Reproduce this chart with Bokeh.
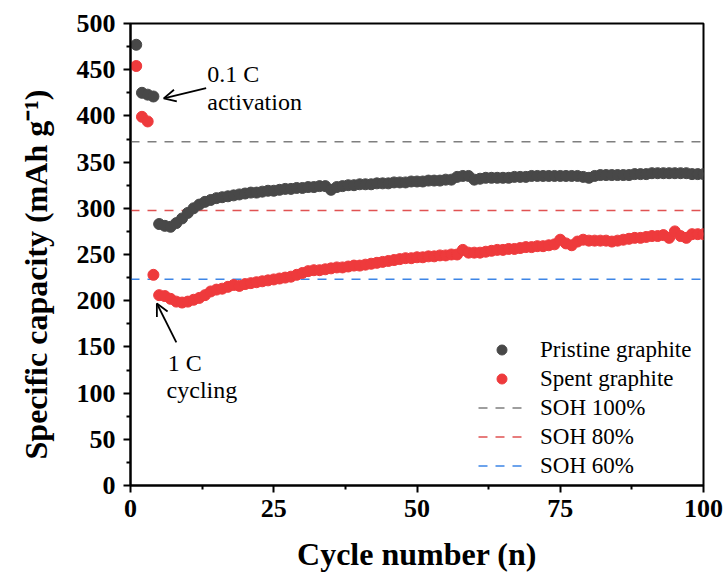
from bokeh.plotting import figure
from bokeh.models import (FixedTicker, Legend, LegendItem, Label, Arrow, OpenHead)
from bokeh.embed import file_html
from bokeh.resources import INLINE

# Cycle index and specific capacity (mAh/g) for the two electrodes
cycles = list(range(1, 101))

pristine = [477, 425, 423, 421, 283, 281, 280, 284, 289, 295,
            300, 304, 307, 309, 311, 312, 313, 314, 315, 316,
            317, 317, 318, 319, 319, 320, 321, 321, 322, 322,
            323, 323, 324, 324, 320, 323, 324, 325, 325, 326,
            326, 326, 327, 327, 327, 328, 328, 328, 329, 329,
            329, 330, 330, 330, 331, 331, 334, 335, 335, 331,
            332, 333, 333, 333, 333, 333, 334, 334, 334, 335,
            335, 335, 335, 335, 335, 335, 335, 335, 334, 333,
            335, 336, 336, 336, 336, 336, 336, 337, 337, 337,
            338, 338, 338, 338, 338, 338, 338, 337, 337, 337]

spent = [454, 399, 394, 228, 206, 205, 202, 199, 198, 199,
         201, 203, 206, 210, 212, 213, 215, 217, 216, 218,
         219, 220, 221, 222, 223, 224, 225, 226, 228, 230,
         232, 233, 233, 234, 235, 236, 236, 237, 238, 238,
         239, 240, 241, 242, 243, 244, 245, 246, 246, 247,
         247, 248, 248, 249, 249, 250, 250, 255, 252, 252,
         252, 253, 254, 255, 255, 256, 256, 257, 258, 258,
         259, 259, 260, 261, 266, 262, 260, 264, 266, 265,
         265, 265, 265, 264, 265, 266, 267, 268, 268, 269,
         270, 270, 271, 268, 275, 270, 268, 272, 272, 272]

# State-of-health reference capacities
soh_labels = ["SOH 100%", "SOH 80%", "SOH 60%"]
soh_values = [372, 297.6, 223.2]
soh_colors = ["#7f7f7f", "#e05252", "#3d85e6"]

x_ticks = [0, 25, 50, 75, 100]
x_minor = [12.5, 37.5, 62.5, 87.5]
y_ticks = list(range(0, 501, 50))
y_minor = list(range(25, 500, 50))

X_MIN, X_MAX = 0, 100
FONT = "Liberation Serif"

p = figure(width=728, height=580, x_range=(X_MIN, X_MAX), y_range=(0, 500),
           output_backend="svg", toolbar_location=None,
           min_border_left=130, min_border_right=25,
           min_border_top=23, min_border_bottom=95)

p.xgrid.visible = False
p.ygrid.visible = False
p.background_fill_color = "white"
p.border_fill_color = "white"
p.outline_line_color = "black"
p.outline_line_width = 2

p.xaxis.ticker = FixedTicker(ticks=x_ticks, minor_ticks=x_minor)
p.yaxis.ticker = FixedTicker(ticks=y_ticks, minor_ticks=y_minor)

for ax in (p.xaxis[0], p.yaxis[0]):
    ax.axis_line_width = 2
    ax.axis_line_color = "black"
    ax.major_tick_line_width = 2
    ax.minor_tick_line_width = 2
    ax.major_tick_in = 0
    ax.major_tick_out = 7
    ax.minor_tick_in = 0
    ax.minor_tick_out = 4
    ax.major_label_text_font = FONT
    ax.major_label_text_font_style = "bold"
    ax.major_label_text_font_size = "26px"
    ax.major_label_text_color = "black"
    ax.axis_label_text_font = FONT
    ax.axis_label_text_font_style = "bold"
    ax.axis_label_text_font_size = "32px"
    ax.axis_label_text_color = "black"

p.xaxis.axis_label = "Cycle number (n)"
# trailing no-break spaces nudge the rotated title a little below centre
p.yaxis.axis_label = "Specific capacity (mAh g\u207b\u00b9)" + "\u00a0" * 5
p.xaxis.major_label_standoff = 7
p.yaxis.major_label_standoff = 8
p.xaxis.axis_label_standoff = 16
p.yaxis.axis_label_standoff = 20

# Reference SOH levels as dashed horizontal lines
soh_renderers = []
for lab, val, col in zip(soh_labels, soh_values, soh_colors):
    r = p.line(x=[X_MIN, X_MAX], y=[val, val], line_color=col,
               line_width=1.6, line_dash="9 8")
    soh_renderers.append(r)

r_pristine = p.scatter(cycles, pristine, size=11, marker="circle",
                       fill_color="#484848", line_color="#484848")
r_spent = p.scatter(cycles, spent, size=11, marker="circle",
                    fill_color="#ee3a3c", line_color="#ee3a3c")

legend = Legend(items=[
    LegendItem(label="Pristine graphite", renderers=[r_pristine]),
    LegendItem(label="Spent graphite", renderers=[r_spent]),
] + [LegendItem(label=lab, renderers=[r]) for lab, r in zip(soh_labels, soh_renderers)],
    location=(348, 5), orientation="vertical")
legend.background_fill_alpha = 0
legend.border_line_alpha = 0
legend.padding = 0
legend.margin = 0
legend.spacing = 0
legend.glyph_width = 47
legend.glyph_height = 25
legend.label_height = 29
legend.label_standoff = 15
legend.label_text_font = FONT
legend.label_text_font_size = "23px"
legend.label_text_color = "black"
p.add_layout(legend)

# Annotations for the activation and cycling regimes
ann_style = dict(text_font=FONT, text_font_size="24px", text_color="black",
                 text_baseline="middle", text_align="left")
p.add_layout(Label(x=13.4, y=445, text="0.1 C", **ann_style))
p.add_layout(Label(x=13.4, y=415, text="activation", **ann_style))
p.add_layout(Label(x=6.5, y=133, text="1 C", **ann_style))
p.add_layout(Label(x=6.3, y=103, text="cycling", **ann_style))

p.add_layout(Arrow(end=OpenHead(size=12, line_width=1.8, line_color="black"),
                   x_start=13.2, y_start=430, x_end=5.8, y_end=419,
                   line_width=1.8, line_color="black"))
p.add_layout(Arrow(end=OpenHead(size=12, line_width=1.8, line_color="black"),
                   x_start=8.0, y_start=155, x_end=4.6, y_end=197,
                   line_width=1.8, line_color="black"))

open("out.html", "w").write(file_html(p, INLINE))
